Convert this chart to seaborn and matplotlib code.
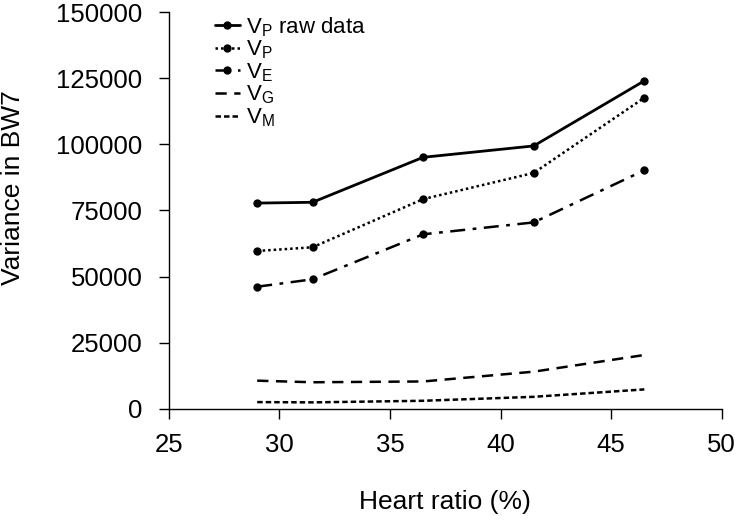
import pandas as pd
import matplotlib.pyplot as plt
import seaborn as sns

# ---------------- Datos ----------------
heart_ratio = [29, 31.5, 36.5, 41.5, 46.5]
vp_raw = [77800, 78100, 95100, 99400, 124000]
vp = [59700, 61100, 79300, 89200, 117600]
ve = [46200, 49000, 66000, 70500, 90200]
vg = [10700, 10100, 10400, 14100, 20400]
vm = [2600, 2500, 3100, 4600, 7400]

labels = [r'V$_\mathregular{P}$ raw data', r'V$_\mathregular{P}$',
          r'V$_\mathregular{E}$', r'V$_\mathregular{G}$', r'V$_\mathregular{M}$']

sns.set_style('white')
plt.rcParams['font.family'] = ['Liberation Sans', 'DejaVu Sans']
plt.rcParams['mathtext.fontset'] = 'custom'
plt.rcParams['mathtext.rm'] = 'Liberation Sans'
plt.rcParams['text.color'] = 'black'
plt.rcParams['axes.labelcolor'] = 'black'

fig = plt.figure(figsize=(7.38, 5.22), dpi=100)
ax = fig.add_axes([0.2286, 0.2165, 0.978 - 0.2286, 0.977 - 0.2165])

series = [
    (vp_raw, '-', 'o', 2.0),
    (vp, (0, (1, 1.2)), 'o', 1.8),
    (ve, (0, (6, 3, 1.5, 3)), 'o', 1.8),
    (vg, (0, (4.5, 3)), None, 1.8),
    (vm, (0, (2.2, 1.2)), None, 1.8),
]

for (vals, ls, mk, lw), lab in zip(series, labels):
    df = pd.DataFrame({'x': heart_ratio, 'y': vals})
    sns.lineplot(data=df, x='x', y='y', ax=ax, color='black', linestyle=ls,
                 linewidth=lw, marker=mk, markersize=6, markeredgewidth=0,
                 label=lab)

ax.set_xlim(25, 50)
ax.set_ylim(0, 150000)
ax.set_xticks([25, 30, 35, 40, 45, 50])
ax.set_yticks([0, 25000, 50000, 75000, 100000, 125000, 150000])
ax.tick_params(axis='both', labelsize=18.5, direction='out', length=7,
               width=1, color='black', labelcolor='black',
               bottom=True, left=True)
ax.tick_params(axis='y', pad=12)
ax.tick_params(axis='x', pad=10)
ax.spines['top'].set_visible(False)
ax.spines['right'].set_visible(False)
for s in ['left', 'bottom']:
    ax.spines[s].set_color('black')
    ax.spines[s].set_linewidth(1)

ax.set_xlabel('Heart ratio (%)', fontsize=19, labelpad=24)
ax.set_ylabel('Variance in BW7', fontsize=19)
ax.yaxis.set_label_coords(-0.26, 0.559)

ax.legend(loc='upper left', bbox_to_anchor=(0.068, 1.015), frameon=False,
          fontsize=16, handlelength=1.1, handletextpad=0.3, labelspacing=0.0,
          borderaxespad=0)

fig.savefig('out.png', dpi=100)
